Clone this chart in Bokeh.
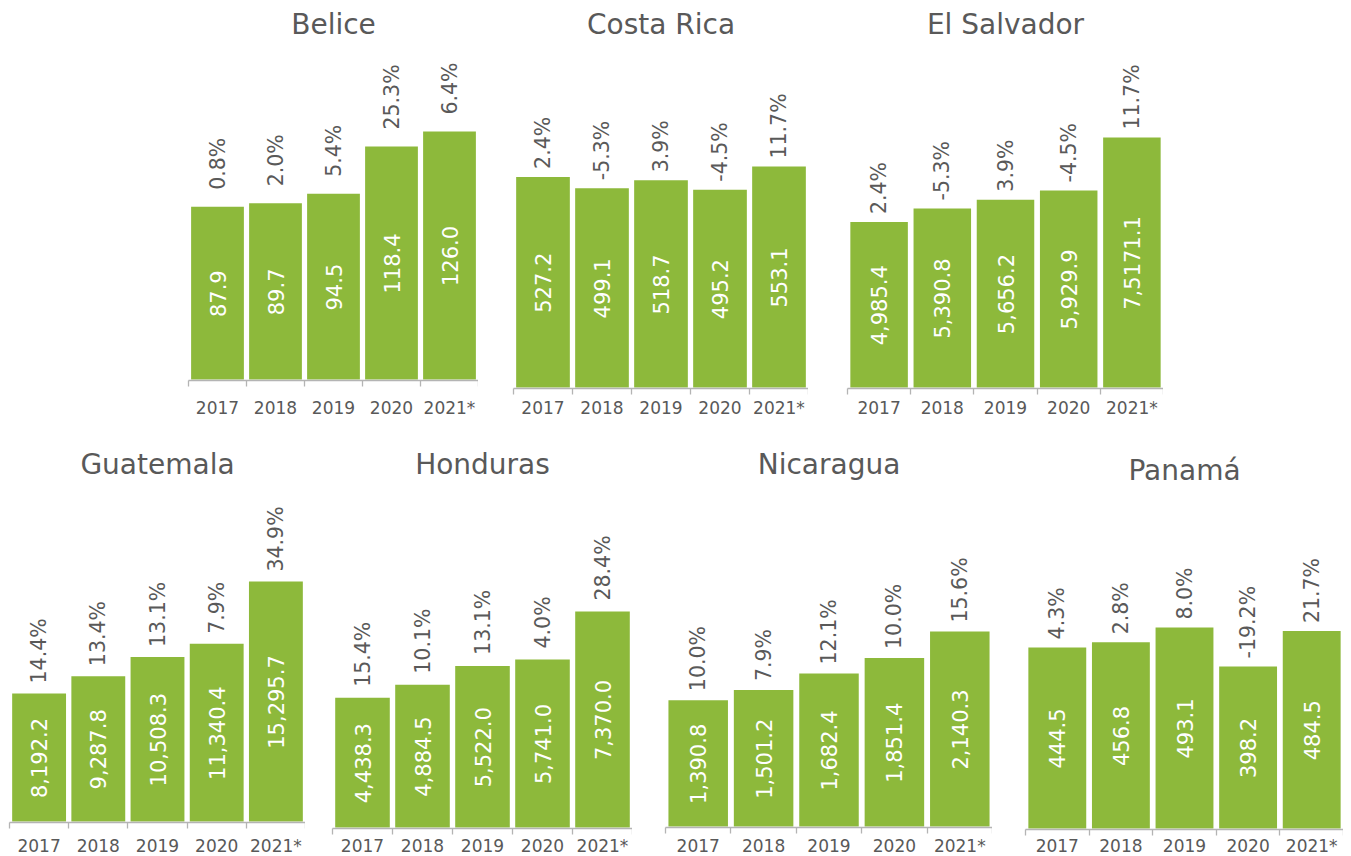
import math
from bokeh.plotting import figure
from bokeh.layouts import column, row
from bokeh.models import ColumnDataSource, Range1d, FixedTicker
from bokeh.core.properties import value
from bokeh.embed import file_html
from bokeh.resources import INLINE

# ---------------- data ----------------
years = ["2017", "2018", "2019", "2020", "2021*"]

belice_vals = [87.9, 89.7, 94.5, 118.4, 126.0]
belice_growth = [0.8, 2.0, 5.4, 25.3, 6.4]

costa_rica_vals = [527.2, 499.1, 518.7, 495.2, 553.1]
costa_rica_growth = [2.4, -5.3, 3.9, -4.5, 11.7]

el_salvador_vals = [4985.4, 5390.8, 5656.2, 5929.9, 7517.1]
el_salvador_growth = [2.4, -5.3, 3.9, -4.5, 11.7]
el_salvador_labels = ["4,985.4", "5,390.8", "5,656.2", "5,929.9", "7,5171.1"]  # as printed

guatemala_vals = [8192.2, 9287.8, 10508.3, 11340.4, 15295.7]
guatemala_growth = [14.4, 13.4, 13.1, 7.9, 34.9]

honduras_vals = [4438.3, 4884.5, 5522.0, 5741.0, 7370.0]
honduras_growth = [15.4, 10.1, 13.1, 4.0, 28.4]

nicaragua_vals = [1390.8, 1501.2, 1682.4, 1851.4, 2140.3]
nicaragua_growth = [10.0, 7.9, 12.1, 10.0, 15.6]

panama_vals = [444.5, 456.8, 493.1, 398.2, 484.5]
panama_growth = [4.3, 2.8, 8.0, -19.2, 21.7]

# ---------------- style ----------------
GREEN = "#8DB93B"
GREY_TXT = "#595959"
AXIS_COL = "#b4b4b4"
FONT = "DejaVu Sans"
TICK_OUT = 6


def panel(name, vals, growth, labels, left, fw, top_y, axis_y, fig_bottom,
          hmax, title_base, gap, label_top):
    fh = axis_y - top_y
    k = hmax / max(vals)          # pixels per unit
    yend = fh / k
    n = len(vals)
    xs = [i + 0.5 for i in range(n)]
    if labels is None:
        labels = [f"{v:,.1f}" for v in vals]
    src = ColumnDataSource(dict(
        x=xs, top=vals, mid=[v / 2 for v in vals],
        vlab=labels,
        py=[v + gap / k for v in vals],
        plab=[f"{g:.1f}%" for g in growth],
    ))
    p = figure(frame_width=fw, frame_height=fh,
               x_range=Range1d(0, n), y_range=Range1d(0, yend),
               min_border_left=left, min_border_right=0,
               min_border_top=0, min_border_bottom=fig_bottom - axis_y,
               output_backend="svg", toolbar_location=None,
               y_axis_location=None, title=None)
    p.outline_line_color = None
    p.grid.visible = False
    p.background_fill_color = "white"
    p.border_fill_color = "white"

    p.vbar(x="x", top="top", width=0.91, bottom=1.0 / k, source=src,
           fill_color=GREEN, line_color=None)

    p.text(x="x", y="mid", text="vlab", source=src, angle=math.pi / 2,
           text_align="center", text_baseline="middle",
           text_color="white", text_font=value(FONT), text_font_size="21px")
    p.text(x="x", y="py", text="plab", source=src, angle=math.pi / 2,
           text_align="left", text_baseline="middle",
           text_color=GREY_TXT, text_font=value(FONT), text_font_size="20.5px")
    # panel title
    p.text(x=[n / 2], y=[(axis_y - title_base) / k], text=[name],
           text_align="center", text_baseline="alphabetic",
           text_color=GREY_TXT, text_font=value(FONT), text_font_size="28px")

    ax = p.xaxis[0]
    ax.ticker = FixedTicker(ticks=xs, minor_ticks=list(range(n + 1)))
    ax.major_label_overrides = {x: y for x, y in zip(xs, years)}
    ax.major_tick_line_color = None
    ax.major_tick_in = 0
    ax.major_tick_out = 0
    ax.minor_tick_line_color = AXIS_COL
    ax.minor_tick_line_width = 1.3
    ax.minor_tick_in = 0
    ax.minor_tick_out = TICK_OUT
    ax.axis_line_color = AXIS_COL
    ax.axis_line_width = 1.3
    ax.major_label_text_font = FONT
    ax.major_label_text_font_size = "17px"
    ax.major_label_text_color = GREY_TXT
    ax.major_label_standoff = max(0, label_top - axis_y - TICK_OUT)
    return p


T0, TB, TL = 0, 440, 397       # top row: top, bottom, tick label top
B0, BB, BL = 440, 856, 835     # bottom row

p1 = panel("Belice", belice_vals, belice_growth, None, 188, 290, T0, 380, TB, 249, 24, 17, TL)
p2 = panel("Costa Rica", costa_rica_vals, costa_rica_growth, None, 35, 295, T0, 388, TB, 222, 24, 8, TL)
p3 = panel("El Salvador", el_salvador_vals, el_salvador_growth, el_salvador_labels, 39, 316, T0, 388, TB, 251, 24, 8, TL)

p4 = panel("Guatemala", guatemala_vals, guatemala_growth, None, 9, 296, B0, 822, BB, 241, 464, 10, BL)
p5 = panel("Honduras", honduras_vals, honduras_growth, None, 27, 300, B0, 828, BB, 217, 464, 11, BL)
p6 = panel("Nicaragua", nicaragua_vals, nicaragua_growth, None, 33, 327, B0, 827, BB, 196, 464, 9, BL)
p7 = panel("Panamá", panama_vals, panama_growth, None, 33, 318, B0, 829, BB, 202, 470, 8, BL)

layout = column(row(p1, p2, p3), row(p4, p5, p6, p7))

open("out.html", "w").write(file_html(layout, INLINE))
